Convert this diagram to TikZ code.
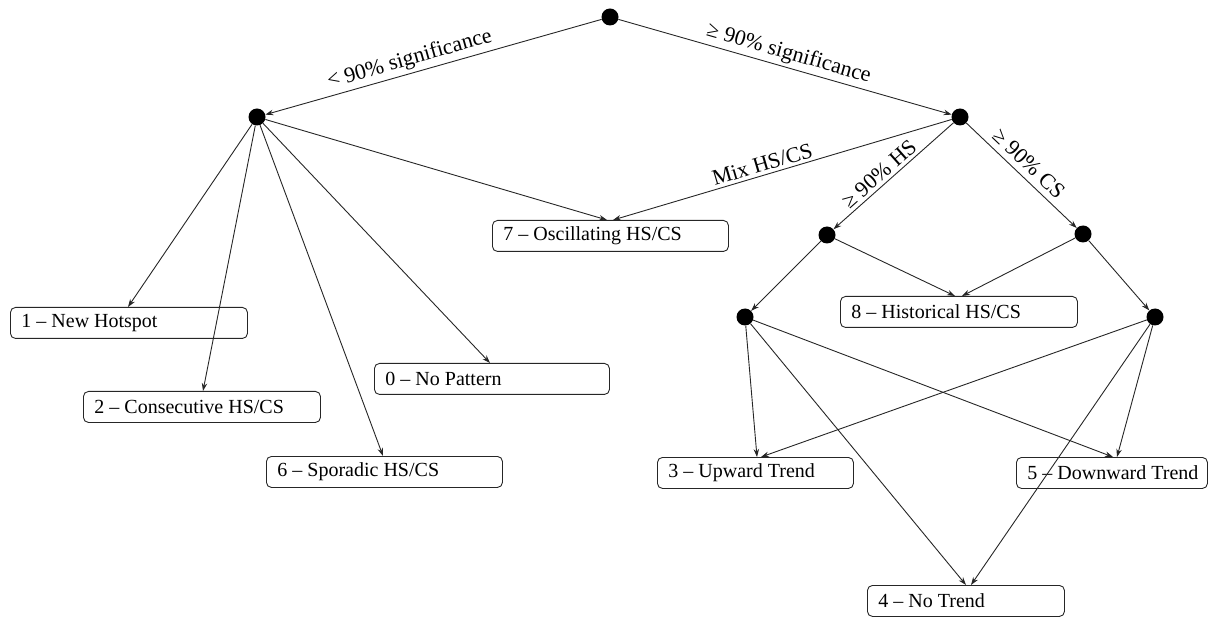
\documentclass[tikz,border=0pt]{standalone}
\usepackage{fontspec}
\setmainfont{Liberation Serif}
\usetikzlibrary{arrows.meta}
\newcommand{\boxtext}[2]{\makebox[#1][l]{#2}}
\begin{document}
\begin{tikzpicture}[x=1pt,y=-1pt,
  dot/.style={circle,fill=black,draw=none,minimum size=17pt,inner sep=0pt},
  box/.style={draw=black!85,line width=0.9pt,rounded corners=5pt,inner xsep=11pt,inner ysep=0pt,
    minimum height=31pt,anchor=north west,font=\fontsize{20}{24}\selectfont},
  arr/.style={draw=black!85,line width=0.9pt,-{Stealth[length=8pt,width=5.5pt]}},
  lbl/.style={font=\fontsize{22}{26}\selectfont,sloped,above,inner sep=3pt}]
\useasboundingbox (0,0) rectangle (1210,617);
% dots
\node[dot] (T) at (610,17) {};
\node[dot] (L) at (257,117) {};
\node[dot] (R) at (960,117) {};
\node[dot] (HS) at (827,235) {};
\node[dot] (CS) at (1083,234) {};
\node[dot] (LL) at (745,317) {};
\node[dot] (RR) at (1155,317) {};
% boxes
\node[box] (b1) at (10,307) {\boxtext{215pt}{1 -- New Hotspot}};
\node[box] (b2) at (83,391) {\boxtext{215pt}{2 -- Consecutive HS/CS}};
\node[box] (b0) at (374,363) {\boxtext{213pt}{0 -- No Pattern}};
\node[box] (b6) at (266,456) {\boxtext{214pt}{6 -- Sporadic HS/CS}};
\node[box] (b7) at (492,220) {\boxtext{214pt}{7 -- Oscillating HS/CS}};
\node[box] (b8) at (840,296) {\boxtext{215pt}{8 -- Historical HS/CS}};
\node[box] (b3) at (657,457) {\boxtext{174pt}{3 -- Upward Trend}};
\node[box] (b5) at (1016,457) {\boxtext{169pt}{5 -- Downward Trend}};
\node[box] (b4) at (867,585) {\boxtext{175pt}{4 -- No Trend}};
% top level
\draw[arr] (T) -- node[lbl,pos=0.56] {< 90\% significance} (L);
\draw[arr] (T) -- node[lbl,pos=0.5] {≥ 90\% significance} (R);
% left branch
\draw[arr] (L) -- ([xshift=118pt]b1.north west);
\draw[arr] (L) -- ([xshift=120pt]b2.north west);
\draw[arr] (L) -- ([xshift=117pt]b6.north west);
\draw[arr] (L) -- ([xshift=116pt]b0.north west);
\draw[arr] (L) -- ([xshift=115pt]b7.north west);
% right branch
\draw[arr] (R) -- node[lbl,pos=0.55] {Mix HS/CS} ([xshift=121pt]b7.north west);
\draw[arr] (R) -- node[lbl,pos=0.56] {≥ 90\% HS} (HS);
\draw[arr] (R) -- node[lbl,pos=0.48,inner sep=6pt] {≥ 90\% CS} (CS);
\draw[arr] (HS) -- (LL);
\draw[arr] (HS) -- ([xshift=115pt]b8.north west);
\draw[arr] (CS) -- ([xshift=122pt]b8.north west);
\draw[arr] (CS) -- (RR);
% trends
\draw[arr] (LL) -- ([xshift=100pt]b3.north west);
\draw[arr] (LL) -- ([xshift=99pt]b4.north west);
\draw[arr] (LL) -- ([xshift=97pt]b5.north west);
\draw[arr] (RR) -- ([xshift=104pt]b3.north west);
\draw[arr] (RR) -- ([xshift=104pt]b4.north west);
\draw[arr] (RR) -- ([xshift=101pt]b5.north west);
\end{tikzpicture}
\end{document}
